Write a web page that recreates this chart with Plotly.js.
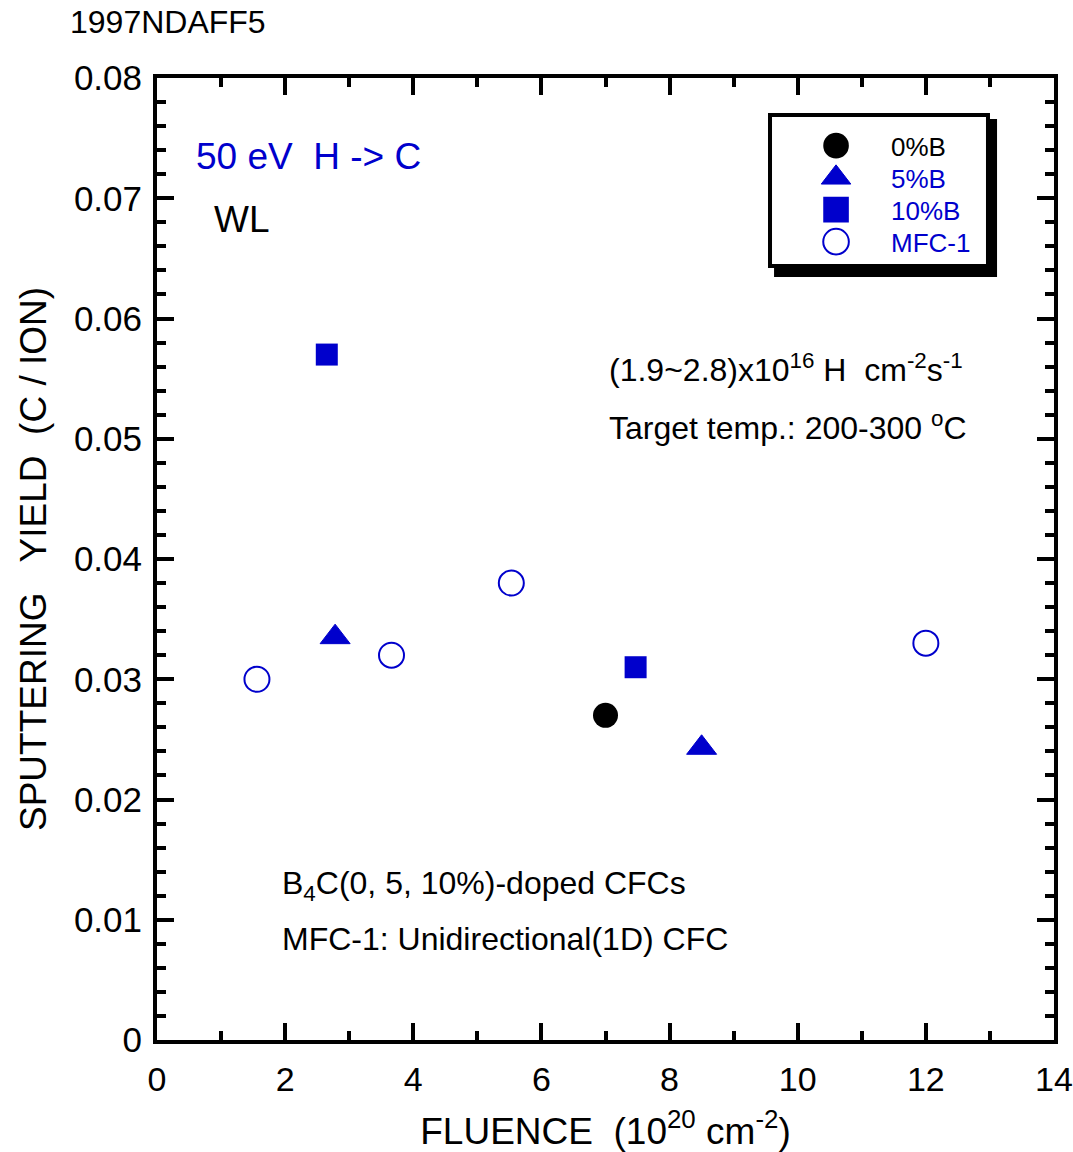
<!DOCTYPE html>
<html>
<head>
<meta charset="utf-8">
<script src="https://cdn.plot.ly/plotly-3.0.1.min.js"></script>
<style>html,body{margin:0;padding:0;background:#fff;}#chart{width:1073px;height:1152px;}</style>
</head>
<body>
<div id="chart"></div>
<script>
// Data
const seriesNames = ["0%B", "5%B", "10%B", "MFC-1"];
const fluence0B = [7.0];
const yield0B = [0.027];
const fluence5B = [2.78, 8.5];
const yield5B = [0.0335, 0.0243];
const fluence10B = [2.65, 7.47];
const yield10B = [0.057, 0.031];
const fluenceMFC = [1.56, 3.66, 5.53, 12.0];
const yieldMFC = [0.030, 0.032, 0.038, 0.033];
const xTickVals = [0, 2, 4, 6, 8, 10, 12, 14];
const yTickVals = [0, 0.01, 0.02, 0.03, 0.04, 0.05, 0.06, 0.07, 0.08];
const yTickText = ["0", "0.01", "0.02", "0.03", "0.04", "0.05", "0.06", "0.07", "0.08"];

const BLUE = "#0000cc";
const FONT = "Liberation Sans, Arial, sans-serif";

const traces = [
  {x: fluence0B, y: yield0B, name: seriesNames[0], type: "scatter", mode: "markers",
   marker: {symbol: "circle", size: 25, color: "#000000"}},
  {x: fluence5B, y: yield5B, name: '<span style="color:' + BLUE + '">' + seriesNames[1] + '</span>', type: "scatter", mode: "markers",
   marker: {symbol: "triangle-up", size: 26, color: BLUE, line: {color: BLUE, width: 1}}},
  {x: fluence10B, y: yield10B, name: '<span style="color:' + BLUE + '">' + seriesNames[2] + '</span>', type: "scatter", mode: "markers",
   marker: {symbol: "square", size: 22, color: BLUE}},
  {x: fluenceMFC, y: yieldMFC, name: '<span style="color:' + BLUE + '">' + seriesNames[3] + '</span>', type: "scatter", mode: "markers",
   marker: {symbol: "circle-open", size: 25, color: BLUE, line: {color: BLUE, width: 2}}}
];

const axisCommon = {
  showline: true, linecolor: "#000", linewidth: 4, mirror: "allticks",
  ticks: "inside", tickcolor: "#000", tickwidth: 4, ticklen: 17,
  showgrid: false, zeroline: false, ticklabeloverflow: "allow",
  tickfont: {family: FONT, size: 35, color: "#000"}
};

const layout = {
  width: 1073, height: 1152,
  margin: {l: 157, r: 19, t: 78, b: 112},
  paper_bgcolor: "#fff", plot_bgcolor: "#fff",
  font: {family: FONT, color: "#000"},
  showlegend: true,
  xaxis: Object.assign({}, axisCommon, {
    range: [0, 14], tickvals: xTickVals, ticktext: xTickVals.map(String),
    tickfont: {family: FONT, size: 34, color: "#000"},
    minor: {dtick: 1, ticks: "inside", ticklen: 9, tickwidth: 4, tickcolor: "#000", showgrid: false},
    ticklabelstandoff: 6,
    title: {text: "FLUENCE  (10<sup>20</sup> cm<sup>-2</sup>)", font: {family: FONT, size: 37, color: "#000"}, standoff: 22}
  }),
  yaxis: Object.assign({}, axisCommon, {
    range: [0, 0.08], tickvals: yTickVals, ticktext: yTickText,
    minor: {dtick: 0.002, ticks: "inside", ticklen: 9, tickwidth: 4, tickcolor: "#000", showgrid: false},
    ticklabelstandoff: 4,
    title: {text: "SPUTTERING   YIELD  (C / ION)", font: {family: FONT, size: 37, color: "#000"}, standoff: 17}
  }),
  legend: {
    x: 0.6957, y: 0.954, xanchor: "left", yanchor: "top",
    bgcolor: "rgba(0,0,0,0)", borderwidth: 0,
    font: {family: FONT, size: 26, color: "#000"},
    itemwidth: 100, tracegroupgap: 0
  },
  shapes: [
    {type: "rect", xref: "paper", yref: "paper", x0: 0.6879, x1: 0.9365, y0: 0.7931, y1: 0.9574,
     fillcolor: "#000", line: {width: 0}, layer: "below"},
    {type: "rect", xref: "paper", yref: "paper", x0: 0.6834, x1: 0.9264, y0: 0.8046, y1: 0.9615,
     fillcolor: "#fff", line: {color: "#000", width: 4}, layer: "below"}
  ],
  annotations: [
    {text: "1997NDAFF5", xref: "paper", yref: "paper", x: -0.0992, y: 1.0582, xanchor: "left", yanchor: "middle", showarrow: false,
     font: {family: FONT, size: 32, color: "#000"}},
    {text: "50 eV  H -> C", xref: "paper", yref: "paper", x: 0.0413, y: 0.9189, xanchor: "left", yanchor: "middle", showarrow: false,
     font: {family: FONT, size: 37, color: BLUE}},
    {text: "WL", xref: "paper", yref: "paper", x: 0.0613, y: 0.8524, xanchor: "left", yanchor: "middle", showarrow: false,
     font: {family: FONT, size: 37, color: "#000"}},
    {text: "(1.9~2.8)x10<sup>16</sup> H  cm<sup>-2</sup>s<sup>-1</sup>", xref: "paper", yref: "paper", x: 0.5017, y: 0.6985, xanchor: "left", yanchor: "middle", showarrow: false,
     font: {family: FONT, size: 32, color: "#000"}},
    {text: "Target temp.: 200-300 <sup>o</sup>C", xref: "paper", yref: "paper", x: 0.5017, y: 0.6383, xanchor: "left", yanchor: "middle", showarrow: false,
     font: {family: FONT, size: 32, color: "#000"}},
    {text: "B<sub>4</sub>C(0, 5, 10%)-doped CFCs", xref: "paper", yref: "paper", x: 0.1372, y: 0.1601, xanchor: "left", yanchor: "middle", showarrow: false,
     font: {family: FONT, size: 32, color: "#000"}},
    {text: "MFC-1: Unidirectional(1D) CFC", xref: "paper", yref: "paper", x: 0.1372, y: 0.1050, xanchor: "left", yanchor: "middle", showarrow: false,
     font: {family: FONT, size: 32, color: "#000"}}
  ]
};

Plotly.newPlot("chart", traces, layout, {displayModeBar: false, staticPlot: true}).then(function (gd) {
  // enlarge legend symbols to match plotted marker size and keep row pitch tight
  const items = gd.querySelectorAll(".legend .traces");
  let y0 = null;
  items.forEach(function (g, i) {
    const m = /translate\(\s*([-\d.]+)[ ,]+([-\d.]+)\s*\)/.exec(g.getAttribute("transform") || "");
    if (m) {
      if (y0 === null) y0 = parseFloat(m[2]);
      g.setAttribute("transform", "translate(" + m[1] + "," + (y0 + i * 32) + ")");
    }
    g.querySelectorAll(".legendpoints path.scatterpts").forEach(function (p) {
      const t = p.getAttribute("transform") || "";
      p.setAttribute("transform", t + " scale(1.6)");
      p.style.vectorEffect = "non-scaling-stroke";
    });
  });
});
</script>
</body>
</html>
